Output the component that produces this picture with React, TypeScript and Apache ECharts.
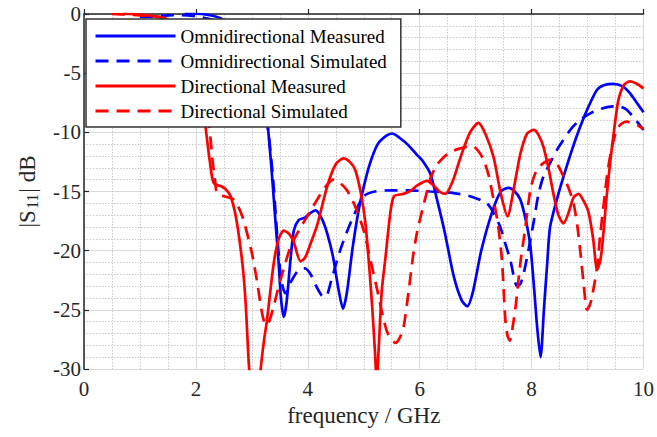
import React, { useEffect, useRef } from "react";
import * as echarts from "echarts";

const xTicks = [0, 2, 4, 6, 8, 10];
const yTicks = [-30, -25, -20, -15, -10, -5, 0];

const seriesNames = [
  "Omnidirectional Measured",
  "Omnidirectional Simulated",
  "Directional Measured",
  "Directional Simulated",
];

const omniMeasured: number[][] = [
  [1.8, 0.05], [2.1, 0], [2.44, -0.35], [2.7, -1.5], [2.9, -3], [3.05, -5], [3.18, -7], [3.25, -8.2],
  [3.29, -9.7], [3.35, -13], [3.42, -17.4], [3.48, -21.1], [3.52, -24], [3.57, -25.6], [3.62, -24.4],
  [3.69, -20.8], [3.75, -18.3], [3.84, -17.4], [3.95, -17.2], [4.05, -16.8], [4.14, -16.6], [4.25, -17.3],
  [4.35, -18.6], [4.45, -20.5], [4.55, -23.3], [4.63, -24.9], [4.7, -23.5], [4.8, -19.8], [4.9, -16.8],
  [4.97, -15.2], [5.1, -12.8], [5.25, -11.0], [5.4, -10.3], [5.51, -10.1], [5.65, -10.5], [5.8, -11.1],
  [5.95, -11.9], [6.05, -12.4], [6.19, -13.5], [6.3, -15.5], [6.45, -18.5], [6.61, -22.2], [6.75, -24.2],
  [6.85, -24.7], [6.95, -23.5], [7.1, -20], [7.29, -16.8], [7.45, -15.0], [7.59, -14.7], [7.7, -15.0],
  [7.8, -15.7], [7.9, -17.5], [7.98, -19.7], [8.05, -23.5], [8.1, -26.5], [8.16, -29], [8.22, -25],
  [8.28, -21], [8.33, -18], [8.45, -15.7], [8.57, -13.75], [8.72, -11.5], [8.87, -9.5], [9.02, -7.8],
  [9.17, -6.4], [9.3, -6.0], [9.46, -5.9], [9.62, -6.1], [9.76, -6.7], [9.88, -7.5], [10, -8.3],
];

const omniSimulated: number[][] = [
  [1.0, -0.25], [1.3, -0.2], [1.5, -0.12], [1.75, -0.1], [2.0, -0.2], [2.3, -0.5], [2.6, -1.3],
  [2.85, -2.8], [3.05, -5], [3.2, -7.8], [3.29, -9.8], [3.38, -14], [3.45, -18.5], [3.51, -21.9],
  [3.56, -23.2], [3.6, -23.6], [3.65, -23.3], [3.69, -22.7], [3.84, -21.6], [3.95, -21.5], [4.05, -22.0],
  [4.15, -23.0], [4.25, -23.8], [4.32, -23.9], [4.42, -22.5], [4.58, -19.95], [4.76, -17.7], [5.0, -15.4],
  [5.2, -15.0], [5.48, -14.9], [5.8, -14.9], [6.19, -15.0], [6.55, -15.1], [6.9, -15.4], [7.2, -16.0],
  [7.32, -16.8], [7.44, -18], [7.53, -19.4], [7.62, -20.8], [7.74, -23.0], [7.8, -22.8], [7.86, -21.9],
  [7.95, -19.8], [8.04, -17.5], [8.12, -15.3], [8.21, -13.75], [8.33, -12.6], [8.45, -11.5], [8.69, -9.8],
  [8.85, -9.0], [9.05, -8.4], [9.25, -8.0], [9.46, -7.8], [9.6, -7.85], [9.7, -8.1], [9.85, -8.9], [10, -9.8],
];

const dirMeasured: number[][] = [
  [0.7, 0.05], [1.0, -0.05], [1.2, -0.15], [1.37, -0.3], [1.6, -0.8], [1.8, -1.8], [1.95, -3.5],
  [2.05, -6], [2.17, -9.5], [2.25, -12.5], [2.32, -14.3], [2.47, -14.6], [2.55, -14.9], [2.62, -15.4],
  [2.7, -16.8], [2.77, -18.8], [2.84, -21.5], [2.89, -24.5], [2.95, -29.9], [3.05, -36], [3.16, -29.9],
  [3.22, -27.5], [3.27, -25.9], [3.39, -21.1], [3.48, -19], [3.57, -18.3], [3.67, -18.6], [3.75, -19.3],
  [3.87, -20.9], [3.95, -20.6], [4.05, -19.4], [4.17, -17.8], [4.35, -14.5], [4.5, -12.7], [4.64, -12.2],
  [4.75, -12.5], [4.85, -13.2], [4.95, -15.2], [5.03, -17.7], [5.1, -21.5], [5.15, -24.7], [5.2, -28.5],
  [5.23, -31], [5.27, -28], [5.32, -23.5], [5.39, -20.5], [5.47, -17], [5.54, -15.4], [5.71, -15.2],
  [5.85, -14.9], [5.95, -14.5], [6.13, -14.1], [6.25, -14.5], [6.35, -15.0], [6.46, -15.2], [6.6, -14],
  [6.73, -12.1], [6.9, -10], [7.05, -9.2], [7.18, -10.2], [7.32, -12.1], [7.45, -15.2], [7.57, -17.1],
  [7.68, -14.8], [7.8, -11.8], [7.92, -10.1], [8.04, -9.8], [8.12, -10.2], [8.21, -11.2], [8.3, -13],
  [8.39, -15.2], [8.48, -17], [8.57, -17.7], [8.66, -16.8], [8.75, -15.5], [8.84, -15.2], [8.93, -15.8],
  [9.02, -16.8], [9.1, -19], [9.17, -21.6], [9.22, -21], [9.26, -19.7], [9.34, -15.5], [9.41, -12.3],
  [9.48, -9.6], [9.55, -7.3], [9.65, -6.0], [9.76, -5.7], [9.88, -5.9], [10, -6.3],
];

const dirSimulated: number[][] = [
  [0.5, 0], [0.8, -0.05], [1.1, -0.15], [1.4, -0.3], [1.7, -0.8], [1.9, -1.6], [2.05, -3.5],
  [2.15, -6], [2.24, -9.5], [2.3, -12.5], [2.34, -14], [2.38, -15.2], [2.5, -15.4], [2.68, -15.7],
  [2.83, -17.1], [3.0, -20.2], [3.1, -22.8], [3.16, -24.7], [3.22, -26], [3.27, -26.3], [3.33, -25.7],
  [3.39, -24.7], [3.51, -22.5], [3.69, -19.7], [3.84, -18.3], [3.99, -17.1], [4.23, -15.2], [4.35, -14.4],
  [4.46, -14.0], [4.58, -14.3], [4.70, -14.9], [4.85, -16.3], [5.0, -18.3], [5.12, -20.8], [5.24, -23.3],
  [5.34, -25.5], [5.42, -26.9], [5.5, -27.5], [5.57, -27.8], [5.64, -27.4], [5.71, -26.5], [5.8, -23.5],
  [5.88, -20.5], [5.95, -18.5], [6.05, -16.5], [6.13, -15.0], [6.19, -13.9], [6.3, -12.8], [6.43, -12.1],
  [6.58, -11.6], [6.73, -11.35], [6.85, -11.2], [6.96, -11.2], [7.05, -11.6], [7.14, -12.3], [7.23, -13.6],
  [7.32, -15.7], [7.4, -17.8], [7.47, -20.8], [7.53, -25.8], [7.57, -27.2], [7.61, -27.6], [7.66, -26.5],
  [7.72, -24.5], [7.8, -21], [7.89, -18], [7.98, -14.8], [8.08, -13.3], [8.21, -12.6], [8.36, -12.3],
  [8.47, -12.8], [8.57, -13.75], [8.66, -14.7], [8.75, -16.0], [8.82, -18], [8.88, -20.5], [8.93, -22.8],
  [8.99, -25.0], [9.04, -24.6], [9.08, -23.9], [9.17, -21.4], [9.23, -18.5], [9.29, -16.0], [9.35, -13.6],
  [9.42, -11.6], [9.52, -9.8], [9.6, -9.3], [9.7, -9.1], [9.85, -9.3], [10, -9.7],
];

const FONT = "Liberation Serif";
const BLUE = "#0000ff";
const RED = "#ff0000";

export default function App() {
  const ref = useRef<HTMLDivElement>(null);

  useEffect(() => {
    if (!ref.current) return;
    const chart = echarts.init(ref.current, undefined, { renderer: "svg" });
    const mk = (name: string, data: number[][], color: string, dashed: boolean) => ({
      name,
      type: "line",
      data,
      smooth: 0.25,
      symbol: "none",
      showSymbol: false,
      clip: true,
      lineStyle: { color, width: 2.7, type: dashed ? [13, 8] : "solid" },
      itemStyle: { color },
    });
    chart.setOption({
      animation: false,
      backgroundColor: "#ffffff",
      textStyle: { fontFamily: FONT },
      grid: { left: 83, top: 14, right: 13, bottom: 68, containLabel: false },
      legend: {
        orient: "vertical",
        left: 86,
        top: 19,
        data: seriesNames,
        itemWidth: 80,
        itemHeight: 14,
        itemGap: 5,
        padding: [7, 14, 6, 8],
        backgroundColor: "#ffffff",
        borderColor: "#333333",
        borderWidth: 1.5,
        borderRadius: 0,
        z: 10,
        itemStyle: { opacity: 0 },
        lineStyle: { width: 3 },
        textStyle: { fontFamily: FONT, fontSize: 19, color: "#000000", lineHeight: 20 },
      },
      xAxis: {
        type: "value",
        min: 0,
        max: 10,
        interval: 2,
        name: "frequency / GHz",
        nameLocation: "middle",
        nameGap: 30,
        nameTextStyle: { fontFamily: FONT, fontSize: 23, color: "#262626" },
        axisLine: { show: true, lineStyle: { color: "#262626", width: 1.5 } },
        axisTick: { show: true, inside: true, length: 5, lineStyle: { color: "#262626", width: 1.2 } },
        axisLabel: {
          fontFamily: FONT, fontSize: 21, color: "#262626", margin: 9,
          formatter: (v: number) => (xTicks.includes(v) ? String(v) : ""),
        },
        splitLine: { show: true, lineStyle: { color: "#dadada", width: 1 } },
        minorTick: { show: false, splitNumber: 4 },
        minorSplitLine: { show: true, lineStyle: { color: "#c8c8c8", width: 1, type: [1.5, 1.5] } },
      },
      yAxis: {
        type: "value",
        min: -30,
        max: 0,
        interval: 5,
        name: "{a||S}{b|11}{a|| dB}",
        nameLocation: "middle",
        nameGap: 44,
        nameRotate: 90,
        nameTextStyle: {
          fontFamily: FONT, fontSize: 22, color: "#262626",
          rich: {
            a: { fontFamily: FONT, fontSize: 23, color: "#262626", lineHeight: 26 },
            b: { fontFamily: FONT, fontSize: 16, color: "#262626", verticalAlign: "bottom", lineHeight: 16, padding: [16, 1, 0, 1] },
          },
        },
        axisLine: { show: true, lineStyle: { color: "#262626", width: 1.5 } },
        axisTick: { show: true, inside: true, length: 5, lineStyle: { color: "#262626", width: 1.2 } },
        axisLabel: {
          fontFamily: FONT, fontSize: 21, color: "#262626", margin: 3,
          formatter: (v: number) => (yTicks.includes(v) ? String(v) : ""),
        },
        splitLine: { show: true, lineStyle: { color: "#dadada", width: 1 } },
        minorTick: { show: false, splitNumber: 5 },
        minorSplitLine: { show: true, lineStyle: { color: "#c8c8c8", width: 1, type: [1.5, 1.5] } },
      },
      series: [
        mk(seriesNames[0], omniMeasured, BLUE, false),
        mk(seriesNames[1], omniSimulated, BLUE, true),
        mk(seriesNames[2], dirMeasured, RED, false),
        mk(seriesNames[3], dirSimulated, RED, true),
      ],
    });
    return () => chart.dispose();
  }, []);

  return <div ref={ref} style={{ width: 657, height: 437, position: "absolute", left: 0, top: 0 }} />;
}
